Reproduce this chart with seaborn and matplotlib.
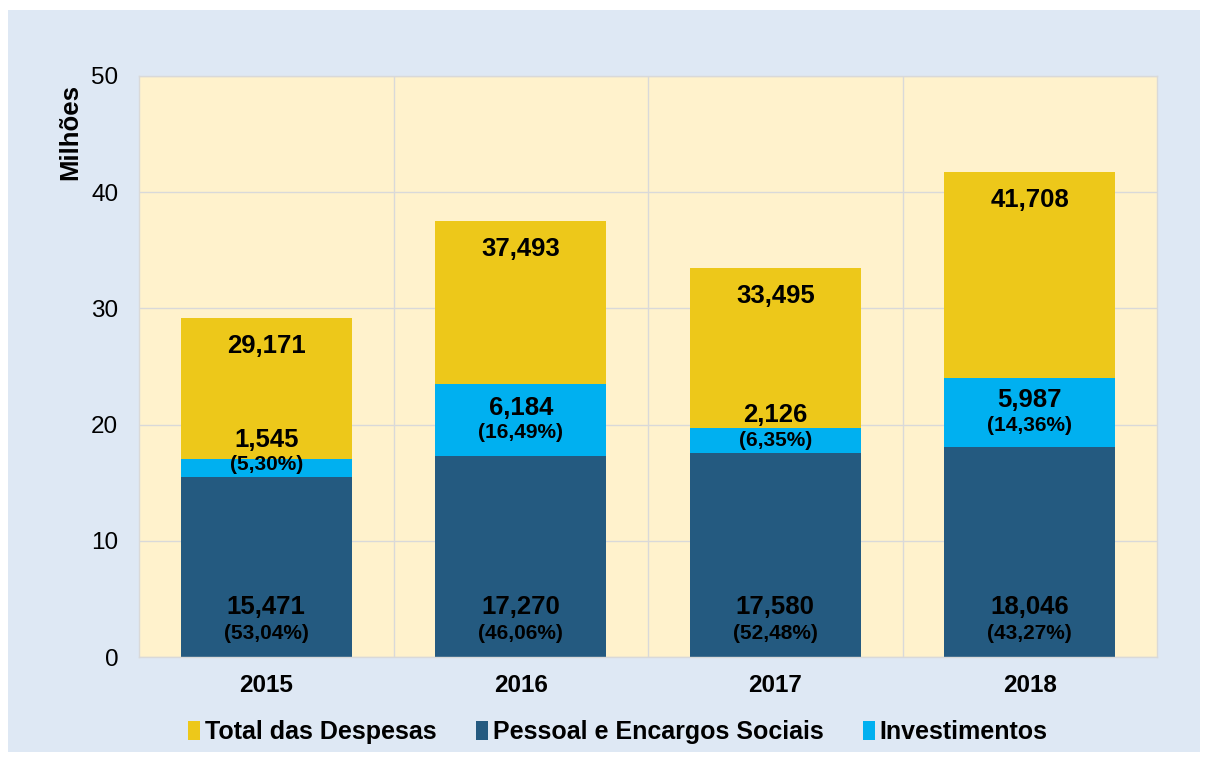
import matplotlib
matplotlib.use("Agg")
import matplotlib.pyplot as plt
from matplotlib.patches import Patch, Rectangle
import numpy as np
import pandas as pd
import seaborn as sns

# data (milhões)
anos = ['2015', '2016', '2017', '2018']
total = [29.171, 37.493, 33.495, 41.708]
pessoal = [15.471, 17.270, 17.580, 18.046]
invest = [1.545, 6.184, 2.126, 5.987]
pct_pessoal = ['(53,04%)', '(46,06%)', '(52,48%)', '(43,27%)']
pct_invest = ['(5,30%)', '(16,49%)', '(6,35%)', '(14,36%)']

c_total = '#EDC81A'
c_pessoal = '#245A80'
c_invest = '#00B0F0'

df = pd.DataFrame({'Ano': anos, 'Total': total, 'Pessoal': pessoal, 'Invest': invest})
df['Acum'] = df['Pessoal'] + df['Invest']

sns.set_style('white')
plt.rcParams['font.family'] = ['Liberation Sans', 'DejaVu Sans']
plt.rcParams['text.color'] = 'black'
plt.rcParams['xtick.color'] = 'black'
plt.rcParams['ytick.color'] = 'black'

fig = plt.figure(figsize=(12.1, 7.62), dpi=100, facecolor='white')
fig.patches.append(Rectangle((8 / 1210, 10 / 762), 1192 / 1210, 742 / 762,
                             transform=fig.transFigure, facecolor='#DEE8F4',
                             edgecolor='none', zorder=-10))
ax = fig.add_axes([139 / 1210, 1 - 657 / 762, 1018 / 1210, 581 / 762])
ax.set_facecolor('#FFF2CC')

w = 0.67
sns.barplot(data=df, x='Ano', y='Total', color=c_total, width=w, linewidth=0, saturation=1, ax=ax, zorder=2)
sns.barplot(data=df, x='Ano', y='Acum', color=c_invest, width=w, linewidth=0, saturation=1, ax=ax, zorder=2)
sns.barplot(data=df, x='Ano', y='Pessoal', color=c_pessoal, width=w, linewidth=0, saturation=1, ax=ax, zorder=2)

ax.set_ylim(0, 50)
ax.set_xlim(-0.5, len(anos) - 0.5)
ax.set_yticks(np.arange(0, 51, 10))
ax.set_xticks(range(len(anos)))
ax.set_xticklabels(anos, fontsize=17.5, fontweight='bold')
ax.set_xticks([0.5, 1.5, 2.5], minor=True)
ax.tick_params(axis='y', length=0, pad=15, labelsize=17.5)
ax.tick_params(axis='x', which='both', length=0, pad=12)
ax.grid(True, axis='y', color='#D9D9D9', linewidth=1, zorder=1)
ax.grid(True, axis='x', which='minor', color='#D9D9D9', linewidth=1, zorder=1)
ax.grid(False, axis='x', which='major')
ax.set_axisbelow(True)
for s in ax.spines.values():
    s.set_color('#D9D9D9')
    s.set_linewidth(1)
ax.set_xlabel('')
ax.set_ylabel('')

fig.text(70 / 1210, 1 - 132 / 762, 'Milhões', rotation=90, ha='center', va='center',
         fontsize=18.5, fontweight='bold')

def fmt(v):
    return f'{v:.3f}'.replace('.', ',')

for i in range(len(anos)):
    # total
    ax.annotate(fmt(total[i]), (i, total[i]), xytext=(0, -20), textcoords='offset points',
                ha='center', va='center', fontsize=18.5, fontweight='bold', zorder=5)
    # investimentos
    mid = max(pessoal[i] + invest[i] / 2, pessoal[i] + 2.15)
    ax.annotate(fmt(invest[i]), (i, mid), xytext=(0, 9), textcoords='offset points',
                ha='center', va='center', fontsize=18.5, fontweight='bold', zorder=5)
    ax.annotate(pct_invest[i], (i, mid), xytext=(0, -9), textcoords='offset points',
                ha='center', va='center', fontsize=15, fontweight='bold', zorder=5)
    # pessoal
    ax.annotate(fmt(pessoal[i]), (i, 0), xytext=(0, 36), textcoords='offset points',
                ha='center', va='center', fontsize=18.5, fontweight='bold', zorder=5)
    ax.annotate(pct_pessoal[i], (i, 0), xytext=(0, 17), textcoords='offset points',
                ha='center', va='center', fontsize=15, fontweight='bold', zorder=5)

handles = [Patch(facecolor=c_total, edgecolor='none', label='Total das Despesas'),
           Patch(facecolor=c_pessoal, edgecolor='none', label='Pessoal e Encargos Sociais'),
           Patch(facecolor=c_invest, edgecolor='none', label='Investimentos')]
fig.legend(handles=handles, loc='center', bbox_to_anchor=(618 / 1210, 1 - 732 / 762), ncol=3,
           frameon=False, prop={'size': 18, 'weight': 'bold'}, handlelength=0.45,
           handleheight=0.8, handletextpad=0.2, columnspacing=1.6)

fig.savefig('out.png', dpi=100, facecolor='white')
